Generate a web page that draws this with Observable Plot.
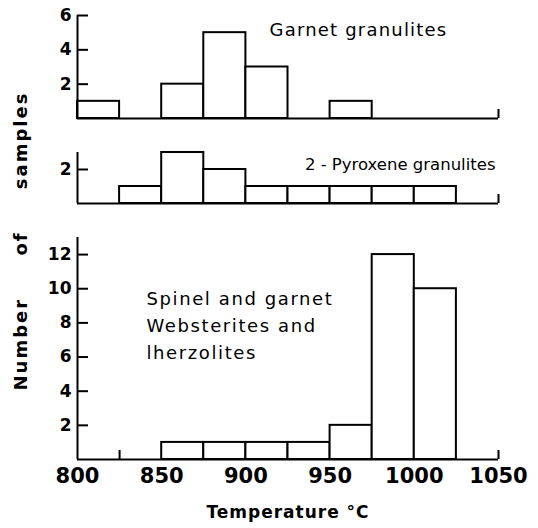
<!DOCTYPE html>
<html>
<head>
<meta charset="utf-8">
<script src="https://cdn.jsdelivr.net/npm/d3@7"></script>
<script src="https://cdn.jsdelivr.net/npm/@observablehq/plot@0.6"></script>
<style>
  html, body { margin: 0; padding: 0; background: #fff; }
  #chart { position: relative; width: 538px; height: 528px; overflow: hidden; font-family: "DejaVu Sans", sans-serif; }
  #chart svg { position: absolute; left: 0; background: transparent !important; overflow: visible; }
  #ylabel { position: absolute; left: 20px; top: 241px; transform: translate(-50%, -50%) rotate(-90deg);
    white-space: nowrap; font: bold 18px "DejaVu Sans", sans-serif; letter-spacing: 2px; word-spacing: 34px; color: #000; }
</style>
</head>
<body>
<div id="chart"><div id="ylabel">Number of samples</div></div>
<script>
// ---- data ----
const binWidth = 25;
const xTicks = [800, 850, 900, 950, 1000, 1050];

const garnetBins = [800, 850, 875, 900, 950];
const garnetCounts = [1, 2, 5, 3, 1];
const garnetLabel = ["Garnet granulites"];
const garnetYTicks = [2, 4, 6];

const pyroxeneBins = [825, 850, 875, 900, 925, 950, 975, 1000];
const pyroxeneCounts = [1, 3, 2, 1, 1, 1, 1, 1];
const pyroxeneLabel = ["2 - Pyroxene granulites"];
const pyroxeneYTicks = [2];

const spinelBins = [850, 875, 900, 925, 950, 975, 1000];
const spinelCounts = [1, 1, 1, 1, 2, 12, 10];
const spinelLabel = ["Spinel and garnet\nWebsterites and\nlherzolites"];
const spinelYTicks = [2, 4, 6, 8, 10, 12];

const xTitle = ["Temperature °C"];

// ---- helpers ----
const rows = (bins, counts) => bins.map((b, i) => ({x1: b, x2: b + binWidth, n: counts[i]}));
const chart = document.getElementById("chart");
const PLOT_W = 538, ML = 77, MR = 40, FRAME_W = PLOT_W - ML - MR;
const TICK = 11;

function panel({bins, counts, yMax, yTicks, label, top, marginTop, plotH, marginBottom, textOpts, spacing, extraTicks, bottomAxis}) {
  const marks = [
    Plot.rectY(rows(bins, counts), {x1: "x1", x2: "x2", y: "n", fill: "white", stroke: "black", strokeWidth: 2}),
    Plot.ruleY([0], {stroke: "black", strokeWidth: 2}),
    Plot.ruleX([800], {stroke: "black", strokeWidth: 2}),
    // inward tick marks on the y axis
    Plot.ruleY(yTicks, {stroke: "black", strokeWidth: 2, insetRight: FRAME_W - TICK}),
    // y tick labels
    Plot.axisY(yTicks, {anchor: "left", tickSize: 0, tickPadding: 6, fontSize: 17, fontWeight: "bold", label: null}),
    // small upward ticks on the x baseline
    Plot.ruleX(extraTicks, {stroke: "black", strokeWidth: 2, insetTop: plotH - 9}),
    Plot.text(label, {...textOpts, fill: "black"})
  ];
  if (bottomAxis) {
    marks.push(Plot.axisX(xTicks, {anchor: "bottom", tickSize: 0, tickPadding: 9, fontSize: 21, fontWeight: "bold",
      tickFormat: d3.format("d"), label: null}));
    marks.push(Plot.text(xTitle, {frameAnchor: "bottom", dy: 58, fontSize: 17, fontWeight: "bold", fill: "black"}));
  }
  const svg = Plot.plot({
    width: PLOT_W,
    height: marginTop + plotH + marginBottom,
    marginTop, marginBottom,
    marginLeft: ML, marginRight: MR,
    style: {background: "transparent", fontFamily: "DejaVu Sans, sans-serif", color: "black", overflow: "visible"},
    x: {domain: [800, 1050], axis: null},
    y: {domain: [0, yMax], axis: null},
    marks
  });
  svg.style.top = top + "px";
  d3.select(svg).selectAll("text").each(function () {
    const t = this.textContent;
    if (t.startsWith(label[0].split("\n")[0])) this.style.letterSpacing = spacing + "px";
    if (t === xTitle[0]) this.style.letterSpacing = "1px";
  });
  chart.appendChild(svg);
}

panel({
  bins: garnetBins, counts: garnetCounts, yMax: 6, yTicks: garnetYTicks, label: garnetLabel,
  top: 0, marginTop: 15, plotH: 103, marginBottom: 5, extraTicks: [1050], spacing: 1.2,
  textOpts: {frameAnchor: "top-left", textAnchor: "start", dx: 192, dy: 8, fontSize: 18}
});
panel({
  bins: pyroxeneBins, counts: pyroxeneCounts, yMax: 3, yTicks: pyroxeneYTicks, label: pyroxeneLabel,
  top: 140, marginTop: 12, plotH: 51, marginBottom: 5, extraTicks: [1050], spacing: 0,
  textOpts: {frameAnchor: "top-right", textAnchor: "end", dx: -3, dy: 6, fontSize: 16.5}
});
panel({
  bins: spinelBins, counts: spinelCounts, yMax: 13, yTicks: spinelYTicks, label: spinelLabel,
  top: 220, marginTop: 17, plotH: 222, marginBottom: 69, extraTicks: [825, 1050], bottomAxis: true, spacing: 1.6,
  textOpts: {frameAnchor: "top-left", textAnchor: "start", lineAnchor: "middle", dx: 69, dy: 86, fontSize: 18, lineHeight: 1.48}
});
</script>
</body>
</html>
